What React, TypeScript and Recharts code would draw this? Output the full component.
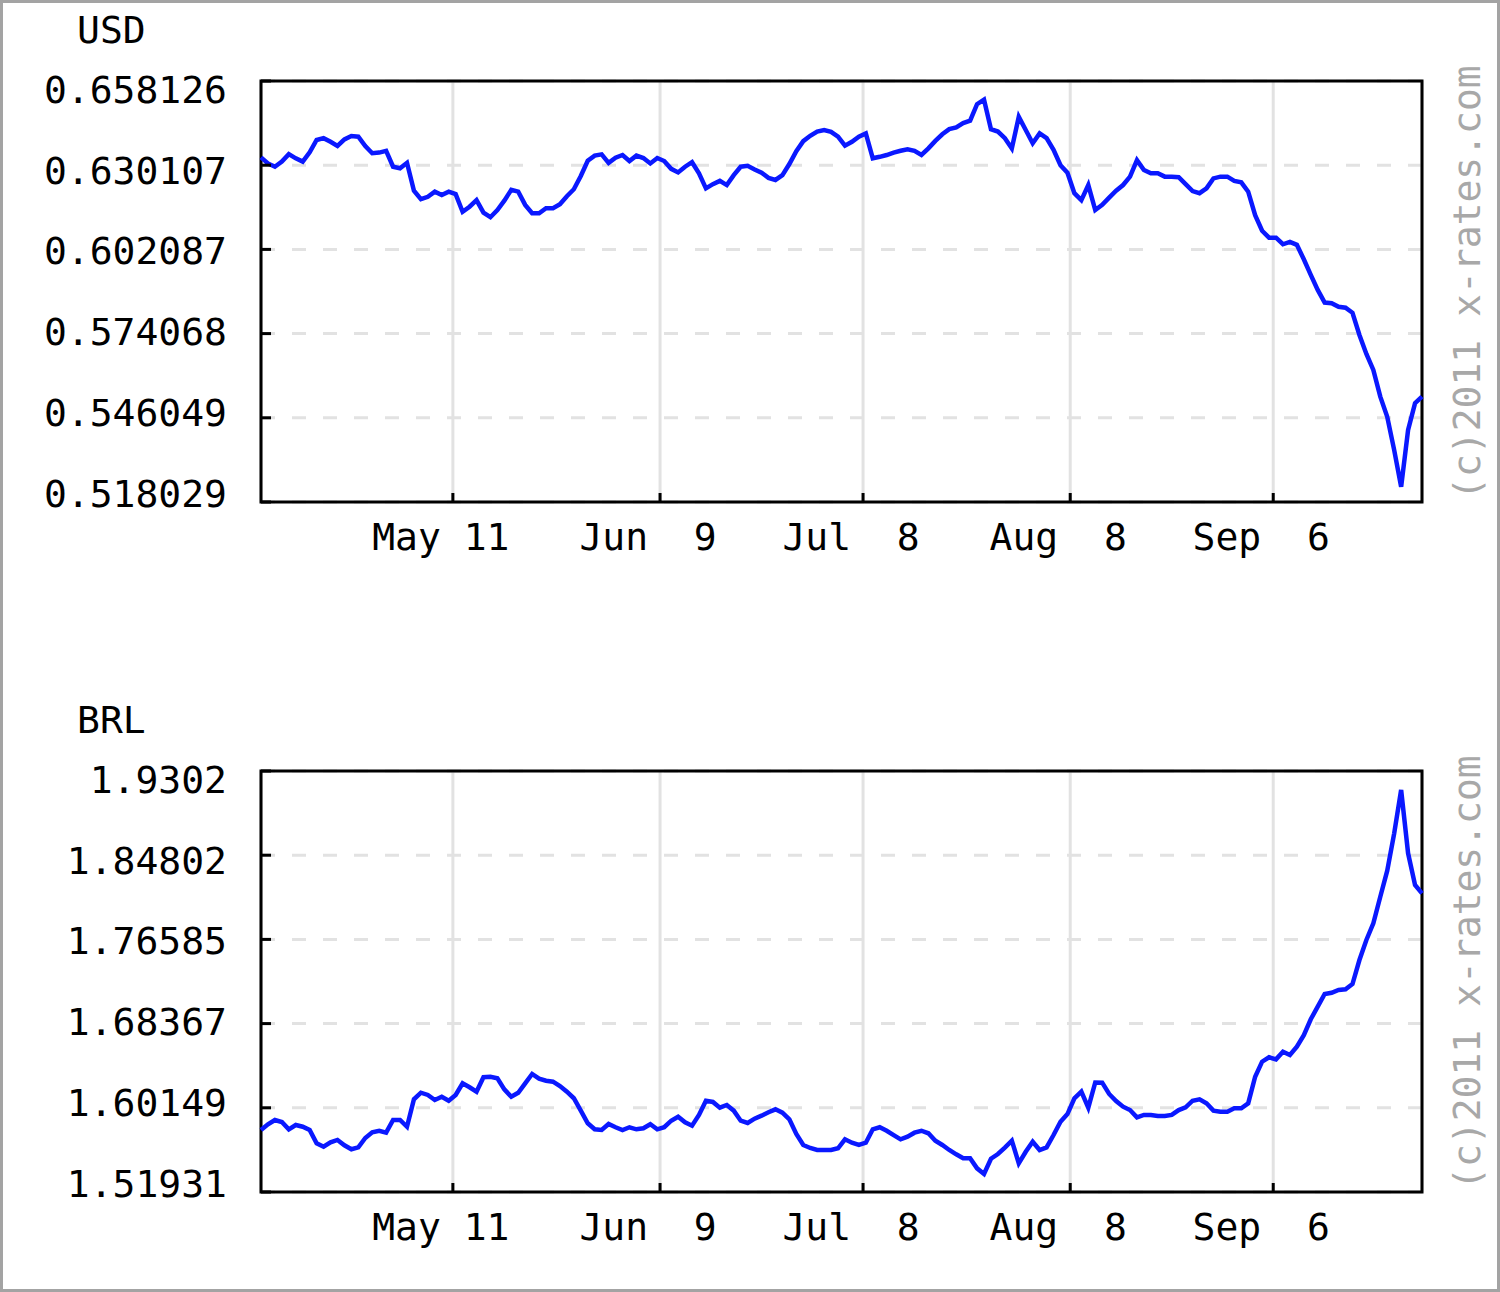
import React from "react";
import { LineChart, Line, XAxis, YAxis, CartesianGrid, ReferenceArea } from "recharts";

// daily rates, one value per day starting mid-April 2011
const usdRates = [
  0.6327, 0.6307, 0.6296, 0.6313, 0.6338, 0.6324, 0.6313, 0.6344, 0.6385, 0.6391,
  0.6379, 0.6365, 0.6387, 0.6398, 0.6396, 0.6365, 0.6341, 0.6343, 0.6349, 0.6296,
  0.6291, 0.6309, 0.6216, 0.6188, 0.6196, 0.6213, 0.6202, 0.6213, 0.6205, 0.6146,
  0.6163, 0.6185, 0.6143, 0.6128, 0.6152, 0.6183, 0.6219, 0.6213, 0.6169, 0.6141,
  0.6141, 0.6158, 0.6158, 0.6171, 0.6198, 0.6221, 0.6265, 0.6316, 0.6333, 0.6337,
  0.6309, 0.6326, 0.6335, 0.6315, 0.6333, 0.6325, 0.6307, 0.6325, 0.6315, 0.6289,
  0.6277, 0.6296, 0.6311, 0.6274, 0.6224, 0.6238, 0.6249, 0.6235, 0.6268, 0.6296,
  0.6299, 0.6287, 0.6276, 0.6259, 0.6252, 0.6268, 0.6305, 0.6348, 0.6381, 0.6399,
  0.6413, 0.6418, 0.6412, 0.6396, 0.6366, 0.6379, 0.6396, 0.6407, 0.6324, 0.6329,
  0.6335, 0.6343, 0.6349, 0.6354, 0.6349, 0.6335, 0.6357, 0.6382, 0.6404, 0.6421,
  0.6427, 0.6441, 0.6449, 0.6504, 0.6519, 0.6421, 0.6413, 0.6391, 0.6357, 0.6462,
  0.6418, 0.6374, 0.6407, 0.6391, 0.6352, 0.6301, 0.6276, 0.6208, 0.6185, 0.6235,
  0.6152, 0.6169, 0.6193, 0.6216, 0.6235, 0.6263, 0.6318, 0.6285, 0.6274, 0.6274,
  0.6263, 0.6263, 0.6261, 0.6238, 0.6215, 0.6208, 0.6224, 0.6257, 0.6263, 0.6263,
  0.6249, 0.6244, 0.6213, 0.6135, 0.6083, 0.606, 0.606, 0.6038, 0.6046, 0.6036,
  0.5988, 0.5936, 0.5886, 0.5844, 0.5842, 0.583, 0.5827, 0.581, 0.5736, 0.5673,
  0.562, 0.5531, 0.5464, 0.5353, 0.5231, 0.542, 0.5509, 0.5531,
];

const brlRates = [
  1.5798, 1.5854, 1.5896, 1.5876, 1.5805, 1.5847, 1.583, 1.5798, 1.5668, 1.5635,
  1.5678, 1.5701, 1.5649, 1.561, 1.5629, 1.572, 1.5776, 1.5791, 1.5772, 1.5896,
  1.5896, 1.583, 1.6098, 1.6162, 1.614, 1.6091, 1.6123, 1.6084, 1.614, 1.6254,
  1.6215, 1.6172, 1.6313, 1.6318, 1.6303, 1.6195, 1.6123, 1.6162, 1.6254, 1.6345,
  1.6299, 1.6279, 1.627, 1.6228, 1.6172, 1.6108, 1.5987, 1.5864, 1.5805, 1.5798,
  1.5857, 1.5825, 1.5798, 1.5825, 1.5805, 1.5815, 1.5854, 1.5805, 1.5825, 1.5889,
  1.5928, 1.5873, 1.584, 1.5945, 1.6084, 1.6072, 1.6016, 1.6042, 1.5987, 1.5889,
  1.5867, 1.5909, 1.5938, 1.5971, 1.6, 1.5967, 1.5903, 1.5759, 1.5652, 1.5623,
  1.5603, 1.5603, 1.5603, 1.562, 1.5707, 1.5674, 1.5652, 1.5674, 1.5805, 1.5825,
  1.5791, 1.5749, 1.5707, 1.5733, 1.5772, 1.5791, 1.5766, 1.5694, 1.5652, 1.5603,
  1.5561, 1.5522, 1.5522, 1.5424, 1.5369, 1.5518, 1.5564, 1.5626, 1.5694, 1.5473,
  1.5586, 1.5684, 1.5603, 1.5629, 1.5749, 1.5879, 1.5954, 1.6108, 1.6172, 1.6016,
  1.6262, 1.626, 1.615, 1.6081, 1.6026, 1.5993, 1.5922, 1.5945, 1.5945, 1.5935,
  1.5935, 1.5945, 1.5993, 1.602, 1.6084, 1.6098, 1.6059, 1.5987, 1.5977, 1.5977,
  1.601, 1.601, 1.6059, 1.6318, 1.6465, 1.6508, 1.6488, 1.6562, 1.653, 1.6611,
  1.6723, 1.6879, 1.7002, 1.7126, 1.7138, 1.7165, 1.7171, 1.7223, 1.7457, 1.7653,
  1.7816, 1.8075, 1.8329, 1.8694, 1.9117, 1.8499, 1.8189, 1.8108,
];

// where the labelled dates fall on the day axis, and their labels
const dateTicks = [27.6, 57.4, 86.6, 116.4, 145.6];
const dateLabels = ["May 11", "Jun\u00a0\u00a09", "Jul\u00a0\u00a08", "Aug\u00a0\u00a08", "Sep\u00a0\u00a06"];

const usdTicks = [0.518029, 0.546049, 0.574068, 0.602087, 0.630107, 0.658126];
const brlTicks = [1.51931, 1.60149, 1.68367, 1.76585, 1.84802, 1.9302];

const FONT = "'DejaVu Sans Mono', monospace";
const FS = 38;

const XTick = ({ x, y, payload }: any) => {
  const i = dateTicks.indexOf(payload.value);
  return (
    <g>
      <line x1={x} x2={x} y1={y} y2={y - 9} stroke="#000" strokeWidth={3} />
      <text x={x - 12} y={y + 48} textAnchor="middle" fontFamily={FONT} fontSize={FS} fill="#000">
        {dateLabels[i]}
      </text>
    </g>
  );
};

const YTick = ({ x, y, payload, ticks }: any) => {
  const i = ticks.indexOf(payload.value);
  return (
    <g>
      <line x1={x} x2={x + 10} y1={y} y2={y} stroke="#000" strokeWidth={3} />
      <text x={x - 34} y={y + 4.5 + 3.5 * i} textAnchor="end" fontFamily={FONT} fontSize={FS} fill="#000">
        {String(payload.value)}
      </text>
    </g>
  );
};

const Panel = ({ values, ticks, top }: { values: number[]; ticks: number[]; top: number }) => {
  const data = values.map((v, i) => ({ day: i, rate: v }));
  return (
    <div style={{ position: "absolute", left: 0, top }}>
      <LineChart width={1500} height={602} data={data} margin={{ top: 81, right: 78, bottom: 40, left: 0 }}>
        <CartesianGrid vertical={false} stroke="#e2e2e2" strokeWidth={3} strokeDasharray="14 17" />
        <CartesianGrid horizontal={false} stroke="#e2e2e2" strokeWidth={3} />
        <XAxis
          type="number"
          dataKey="day"
          domain={[0, values.length - 1]}
          ticks={dateTicks}
          interval={0}
          height={60}
          axisLine={false}
          tickLine={false}
          tickSize={0}
          tickMargin={0}
          tick={<XTick />}
        />
        <YAxis
          type="number"
          domain={[ticks[0], ticks[ticks.length - 1]]}
          ticks={ticks}
          interval={0}
          width={261}
          axisLine={false}
          tickLine={false}
          tickSize={0}
          tickMargin={0}
          tick={(p: any) => <YTick {...p} ticks={ticks} />}
        />
        <Line type="linear" dataKey="rate" stroke="#0a18ff" strokeWidth={4.5} dot={false} isAnimationActive={false} />
        <ReferenceArea
          x1={0}
          x2={values.length - 1}
          y1={ticks[0]}
          y2={ticks[ticks.length - 1]}
          fill="none"
          fillOpacity={0}
          stroke="#000"
          strokeWidth={3}
        />
      </LineChart>
    </div>
  );
};

export default function App() {
  return (
    <div style={{ position: "absolute", left: 0, top: 0, width: 1500, height: 1292, background: "#fff", overflow: "hidden" }}>
      <Panel values={usdRates} ticks={usdTicks} top={0} />
      <Panel values={brlRates} ticks={brlTicks} top={690} />
      <svg width={1500} height={1292} style={{ position: "absolute", left: 0, top: 0, pointerEvents: "none" }}>
        <rect x={1.5} y={1.5} width={1497} height={1289} fill="none" stroke="#a3a3a3" strokeWidth={3} />
        <text x={77} y={43} fontFamily={FONT} fontSize={FS} fill="#000">USD</text>
        <text x={77} y={733} fontFamily={FONT} fontSize={FS} fill="#000">BRL</text>
        <text transform="translate(1480,500) rotate(-90)" fontFamily={FONT} fontSize={FS} fill="#a8a8a8">
          (c)2011 x-rates.com
        </text>
        <text transform="translate(1480,1190) rotate(-90)" fontFamily={FONT} fontSize={FS} fill="#a8a8a8">
          (c)2011 x-rates.com
        </text>
      </svg>
    </div>
  );
}
